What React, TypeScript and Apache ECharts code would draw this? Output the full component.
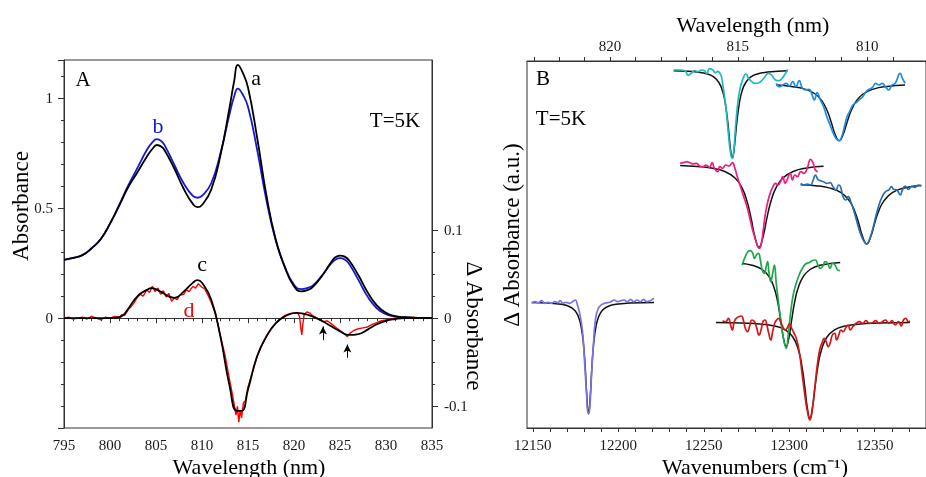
import React, { useEffect, useRef } from "react";
import * as echarts from "echarts";

const FONT = "Liberation Serif";

// ---------- Panel A (absorbance, wavelength nm) ----------
const curveB: [number, number][] = [
  [795, 0.265], [796, 0.274], [797, 0.287], [798, 0.318], [799, 0.36], [800, 0.43], [801, 0.515],
  [802, 0.605], [803, 0.685], [804, 0.765], [804.6, 0.8], [805.1, 0.815], [805.6, 0.805], [806, 0.782],
  [807, 0.697], [808, 0.614], [809, 0.556], [809.5, 0.548], [810, 0.556], [811, 0.614], [812, 0.75],
  [813, 0.93], [813.5, 1.01], [813.9, 1.045], [814.4, 1.02], [815, 0.962], [816, 0.765], [817, 0.538],
  [818, 0.356], [819, 0.235], [820, 0.152], [820.8, 0.132], [821.5, 0.138], [822, 0.147], [823, 0.192],
  [824, 0.247], [824.5, 0.266], [825, 0.273], [825.5, 0.267], [826, 0.247], [827, 0.174], [828, 0.098],
  [829, 0.045], [830, 0.018], [831, 0.007], [832, 0.003], [833.5, 0.001], [835, 0]
];
const curveA: [number, number][] = [
  [795, 0.265], [796, 0.274], [797, 0.287], [798, 0.318], [799, 0.36], [800, 0.43], [801, 0.512],
  [802, 0.598], [803, 0.665], [804, 0.735], [804.6, 0.77], [805.1, 0.788], [805.6, 0.78], [806, 0.76],
  [807, 0.68], [808, 0.59], [809, 0.52], [809.5, 0.505], [810, 0.515], [811, 0.585], [812, 0.74],
  [813, 0.96], [813.5, 1.08], [813.9, 1.153], [814.4, 1.12], [815, 1.05], [816, 0.82], [817, 0.56],
  [818, 0.36], [819, 0.232], [820, 0.145], [820.8, 0.122], [821.5, 0.128], [822, 0.14], [823, 0.19],
  [824, 0.252], [824.5, 0.277], [825, 0.285], [825.5, 0.28], [826, 0.262], [827, 0.195], [828, 0.118],
  [829, 0.058], [830, 0.024], [831, 0.009], [832, 0.004], [833.5, 0.001], [835, 0]
];
const curveC: [number, number][] = [
  [795, 0], [797, 0], [799, 0], [800, 0], [801, 0.001], [801.5, 0.004], [802, 0.011], [803, 0.025],
  [804, 0.032], [804.5, 0.034], [805.5, 0.03], [806.5, 0.024], [807, 0.023], [808, 0.03], [809, 0.04],
  [809.5, 0.043], [810, 0.04], [811, 0.021], [812, -0.021], [813, -0.077], [813.8, -0.105],
  [814.3, -0.105], [815, -0.081], [816, -0.043], [817, -0.021], [818, -0.006], [819, 0.002],
  [820.3, 0.006], [821, 0.005], [822, 0.002], [823, -0.003], [824, -0.009], [825, -0.015],
  [826, -0.019], [827, -0.018], [828, -0.013], [829, -0.007], [830, -0.003], [831, -0.001], [832, 0], [835, 0]
];
const curveD: [number, number][] = [
  [795, 0], [795.5, 0.001], [796, -0.001], [796.5, 0], [797, 0.001], [797.5, -0.001], [798, 0.002],
  [798.5, 0], [799, -0.002], [799.5, 0.001], [800, 0], [800.5, 0.002], [801, 0.001], [801.3, 0.004],
  [801.6, 0.003], [802, 0.01], [802.3, 0.013], [802.6, 0.017], [803, 0.024], [803.3, 0.027],
  [803.6, 0.025], [804, 0.032], [804.3, 0.029], [804.6, 0.036], [804.9, 0.03], [805.2, 0.034],
  [805.5, 0.027], [805.8, 0.031], [806.1, 0.024], [806.4, 0.028], [806.7, 0.019], [807, 0.023],
  [807.3, 0.021], [807.6, 0.026], [808, 0.027], [808.3, 0.032], [808.6, 0.03], [809, 0.036],
  [809.3, 0.034], [809.6, 0.039], [810, 0.035], [810.3, 0.033], [810.6, 0.027], [811, 0.018],
  [811.5, 0.004], [812, -0.02], [812.5, -0.042], [813, -0.07], [813.3, -0.086], [813.5, -0.098],
  [813.7, -0.11], [813.85, -0.1], [814, -0.118], [814.15, -0.104], [814.3, -0.113], [814.5, -0.096],
  [814.7, -0.094], [815, -0.078], [815.5, -0.061], [816, -0.043], [816.5, -0.031], [817, -0.02],
  [817.5, -0.012], [818, -0.006], [818.5, -0.001], [819, 0.003], [819.5, 0.005], [820, 0.006],
  [820.4, 0.006], [820.6, 0.002], [820.75, -0.012], [820.85, -0.019], [820.95, -0.008], [821.1, 0.004],
  [821.4, 0.007], [821.7, 0.006], [822, 0.003], [822.5, 0], [823, -0.003], [823.3, -0.004],
  [823.6, -0.003], [824, -0.006], [824.5, -0.01], [825, -0.014], [825.5, -0.018], [825.8, -0.021],
  [826.1, -0.017], [826.5, -0.014], [827, -0.012], [827.5, -0.011], [828, -0.01], [828.5, -0.007],
  [829, -0.005], [829.5, -0.003], [830, -0.002], [830.5, -0.001], [831, 0], [832, 0], [833, 0.001],
  [834, 0], [835, 0]
];
const arrowX = [823.15, 825.8];
const arrowTail = [-0.025, -0.045];
const arrowHead = [-0.0095, -0.03];

// ---------- Panel B (wavenumbers cm-1, offset traces, a.u.) ----------
const cyanData: [number, number][] = [
  [12232.4, 358], [12236.2, 358], [12239.0, 357.3], [12240.9, 352.7], [12242.9, 355.3], [12244.8, 357.3],
  [12246.7, 356.3], [12248.6, 358], [12250.5, 357.3], [12251.8, 354], [12253.3, 359.3], [12255.3, 358],
  [12256.8, 355.3], [12258.1, 356.7], [12260.0, 353], [12261.0, 344.7], [12262.9, 321.3], [12264.4, 294.7],
  [12265.7, 274.7], [12266.7, 269.7], [12267.6, 278], [12268.6, 301.3], [12270.1, 328], [12271.5, 341.3],
  [12273.4, 351.3], [12274.7, 354], [12276.2, 349.7], [12278.1, 346.3], [12280.0, 344.7], [12282.3, 345.3],
  [12284.2, 348], [12286.1, 352], [12287.7, 354.7], [12289.6, 353], [12291.5, 348.7], [12293.4, 347.3],
  [12295.3, 348.7], [12297.2, 353], [12299.1, 358.7]
];
const cyanFit: [number, number][] = [
  [12232.4, 357.2], [12240, 356.8], [12246, 355.9], [12252, 354.0], [12256, 350.8], [12259, 345.0],
  [12261, 336.9], [12262.5, 325.6], [12264, 306.6], [12265, 289.4], [12266, 274], [12266.7, 270],
  [12267.4, 274], [12268.4, 289.4], [12269.4, 306.6], [12270.9, 325.6], [12272.4, 336.9], [12274.4, 345.0],
  [12277.4, 350.8], [12281.4, 354.0], [12287.4, 355.9], [12293.4, 356.8], [12299.1, 357.3]
];
const blueData: [number, number][] = [
  [12292.4, 344.7], [12294.3, 341.3], [12296.2, 343], [12298.2, 344.7], [12300.1, 342], [12302.0, 346.3],
  [12303.9, 341.3], [12305.8, 347.3], [12307.7, 339.7], [12309.6, 338], [12311.5, 338.7], [12313.4, 333],
  [12314.7, 328], [12316.3, 335.3], [12318.2, 328], [12320.1, 321.3], [12322.0, 311.3], [12323.9, 303],
  [12325.8, 294.7], [12327.7, 288.7], [12329.2, 287.3], [12330.8, 292], [12332.5, 303], [12333.8, 311.3],
  [12335.3, 316.3], [12337.2, 323], [12339.2, 325.3], [12341.1, 328.7], [12343.0, 331.3], [12344.9, 336.3],
  [12346.8, 338.7], [12348.7, 340.7], [12350.6, 344.7], [12352.5, 343], [12354.4, 344.7], [12356.3, 341.3],
  [12358.2, 338], [12360.1, 343], [12362.0, 344.7], [12364.9, 354.7], [12366.2, 349.7], [12367.8, 344.7]
];
const blueFit: [number, number][] = [
  [12292.4, 342.9], [12301.2, 341.6], [12309.2, 338.9], [12315.2, 334.0], [12319.2, 326.9], [12322.2, 317.2],
  [12324.7, 305.1], [12326.7, 294.3], [12329.2, 287.3], [12331.7, 294.3], [12333.7, 305.1], [12336.2, 317.2],
  [12339.2, 326.9], [12343.2, 334.0], [12349.2, 338.9], [12357.2, 341.6], [12367.7, 343.0]
];
const pinkData: [number, number][] = [
  [12236.2, 264.7], [12238.1, 265.3], [12240.0, 266.3], [12241.9, 265.3], [12243.8, 264], [12245.7, 264.7],
  [12247.6, 262], [12249.5, 261.3], [12251.4, 263], [12253.3, 260.7], [12254.9, 265.3], [12256.2, 259.7],
  [12258.1, 256.3], [12259.4, 261.3], [12261.0, 259.7], [12262.9, 263], [12264.8, 262], [12266.7, 265.3],
  [12268.2, 259.7], [12269.6, 251.3], [12271.5, 241.3], [12273.4, 231.3], [12275.3, 221.3], [12277.2, 208],
  [12279.1, 194.7], [12281.0, 184.7], [12282.3, 179.7], [12283.5, 183], [12284.8, 198], [12286.1, 214.7],
  [12287.7, 228], [12289.2, 236.3], [12290.5, 241.3], [12291.9, 244.7], [12293.4, 243], [12294.9, 246.3],
  [12296.2, 251.3], [12297.6, 244.7], [12299.1, 249.7], [12300.6, 254.7], [12301.9, 248], [12303.3, 253],
  [12304.8, 251.3], [12306.7, 256.3], [12308.6, 254.7], [12310.5, 259.7], [12312.5, 268.7], [12314.0, 264.7],
  [12315.3, 258], [12316.7, 256.3]
];
const pinkFit: [number, number][] = [
  [12236.2, 262.5], [12246.3, 261.5], [12254.3, 260], [12262.3, 256.5], [12268.3, 250], [12272.3, 240.3],
  [12275.3, 226.7], [12277.8, 208.8], [12279.8, 192], [12282.3, 180.7], [12284.8, 192], [12286.8, 208.8],
  [12289.3, 226.7], [12292.3, 240.3], [12296.3, 250], [12302.3, 256.5], [12310.3, 260], [12320.1, 261.7]
];
const steelData: [number, number][] = [
  [12306.7, 244.7], [12308.6, 243], [12310.5, 244], [12312.5, 243], [12314.0, 248], [12315.3, 253],
  [12316.7, 248.7], [12318.2, 247.3], [12320.1, 246.3], [12322.0, 244.7], [12323.9, 245.3], [12325.8, 240.7],
  [12327.3, 238], [12328.9, 243], [12330.0, 241.3], [12331.5, 231.3], [12333.1, 228], [12334.4, 231.3],
  [12336.3, 224.7], [12338.2, 214.7], [12340.1, 203], [12342.0, 193], [12343.9, 186.3], [12345.3, 184],
  [12346.8, 188], [12348.7, 198], [12350.6, 211.3], [12352.5, 223], [12354.4, 231.3], [12356.3, 236.3],
  [12358.2, 238], [12359.8, 241.3], [12361.1, 238.7], [12363.0, 238], [12364.9, 233], [12366.2, 238],
  [12367.8, 242], [12369.7, 238.7], [12371.6, 241.3], [12373.5, 240.7], [12375.4, 243], [12377.3, 242]
];
const steelFit: [number, number][] = [
  [12306.7, 243.3], [12315.3, 242.3], [12323.3, 240.1], [12330.3, 235.4], [12335.3, 226.9], [12338.3, 216.8],
  [12340.8, 203.8], [12342.8, 191.9], [12345.3, 184], [12347.8, 191.9], [12349.8, 203.8], [12352.3, 216.8],
  [12355.3, 226.9], [12360.3, 235.4], [12367.3, 240.1], [12377.3, 242.6]
];
const greenData: [number, number][] = [
  [12272.4, 163], [12274.3, 171.3], [12275.8, 176.3], [12277.2, 177.3], [12278.5, 175.3], [12279.7, 169.7],
  [12280.8, 173], [12282.0, 174.7], [12283.1, 168], [12284.2, 158], [12285.4, 154.7], [12286.5, 161.3],
  [12287.3, 166.3], [12288.2, 154.7], [12289.2, 146.3], [12290.3, 154.7], [12291.3, 163], [12292.4, 144.7],
  [12293.8, 124.7], [12295.3, 104.7], [12296.8, 88], [12298.2, 79.7], [12299.5, 94.7], [12301.0, 118],
  [12302.5, 134.7], [12304.1, 144.7], [12305.8, 153], [12307.7, 159.7], [12309.6, 164], [12311.5, 165.3],
  [12313.4, 167.3], [12315.3, 168], [12316.8, 163], [12318.2, 159.7], [12319.7, 162], [12321.0, 166.3],
  [12322.4, 164.7], [12323.9, 159.7], [12325.4, 164.7], [12326.8, 163], [12328.3, 158], [12329.6, 157.3]
];
const greenFit: [number, number][] = [
  [12272.4, 164.6], [12278.2, 162.8], [12284.2, 158.5], [12288.2, 151.4], [12291.2, 140], [12293.2, 126.3],
  [12295.2, 105.6], [12296.7, 89.2], [12298.2, 81.5], [12299.7, 89.2], [12301.2, 105.6], [12303.2, 126.3],
  [12305.2, 140], [12308.2, 151.4], [12312.2, 158.5], [12318.2, 162.8], [12329.8, 165.6]
];
const redData: [number, number][] = [
  [12261.0, 107.3], [12262.9, 106.3], [12264.4, 109.7], [12265.7, 103], [12266.7, 98], [12267.8, 106.3],
  [12269.0, 109.7], [12270.5, 111.3], [12272.0, 112], [12273.4, 106.3], [12274.3, 99.7], [12275.6, 96.3],
  [12277.0, 103], [12278.1, 108], [12279.7, 106.3], [12281.0, 99.7], [12282.3, 93], [12283.5, 98],
  [12284.6, 106.3], [12285.8, 108], [12286.9, 103], [12288.0, 94.7], [12289.2, 88], [12290.3, 96.3],
  [12291.5, 104.7], [12292.6, 108], [12293.8, 109.7], [12294.9, 106.3], [12296.2, 101.3], [12297.6, 98],
  [12298.7, 99.7], [12300.1, 104], [12301.4, 99.7], [12302.9, 94.7], [12304.4, 88], [12306.0, 74.7],
  [12307.5, 54.7], [12309.0, 34.7], [12310.5, 18], [12312.1, 8], [12313.4, 18], [12314.8, 38],
  [12316.3, 61.3], [12317.8, 78], [12319.1, 84.7], [12320.5, 89.7], [12321.6, 86.3], [12322.8, 81.3],
  [12323.9, 84.7], [12325.2, 93], [12326.6, 94.7], [12327.7, 88], [12329.0, 93], [12330.2, 98],
  [12331.5, 96.3], [12332.9, 99.7], [12334.4, 103], [12335.7, 98], [12337.2, 101.3], [12339.2, 104.7],
  [12341.1, 106.3], [12343.0, 104.7], [12344.9, 107.3], [12346.8, 104.7], [12348.7, 105.3], [12350.6, 107.3],
  [12352.5, 104.7], [12354.4, 106.3], [12356.3, 108], [12358.2, 104.7], [12360.1, 107.3], [12362.0, 103],
  [12363.9, 106.3], [12365.5, 102], [12366.8, 108], [12368.1, 109.7], [12369.7, 106.3], [12370.6, 107.3]
];
const redFit: [number, number][] = [
  [12257.1, 105.4], [12272.1, 104.9], [12284.1, 103.8], [12292.1, 101.7], [12298.1, 97.7], [12302.1, 91],
  [12305.1, 79.6], [12307.1, 65.1], [12309.1, 41.2], [12310.6, 20.2], [12312.1, 9.7], [12313.6, 20.2],
  [12315.1, 41.2], [12317.1, 65.1], [12319.1, 79.6], [12322.1, 91], [12326.1, 97.7], [12332.1, 101.7],
  [12340.1, 103.8], [12352.1, 104.9], [12370.6, 105.5]
];
const lavData: [number, number][] = [
  [12149.4, 124.7], [12151.3, 126.3], [12153.2, 125.3], [12155.1, 127.3], [12157.0, 124.7], [12158.9, 125.7],
  [12160.8, 124.7], [12162.8, 126.3], [12164.7, 125.3], [12166.0, 127.3], [12167.5, 124.7], [12169.4, 125.7],
  [12171.3, 124.7], [12173.2, 126.3], [12174.8, 128], [12176.1, 123], [12177.4, 114.7], [12179.0, 98],
  [12180.1, 71.3], [12181.3, 38], [12182.4, 14.7], [12183.2, 18], [12184.3, 51.3], [12185.5, 84.7],
  [12186.6, 108], [12188.1, 118.7], [12190.0, 123], [12191.9, 124.7], [12193.8, 125.3], [12195.7, 126.3],
  [12197.6, 128], [12199.6, 126.3], [12201.5, 127.3], [12203.4, 128], [12205.3, 126.3], [12207.2, 128.7],
  [12209.1, 126.3], [12211.0, 128], [12212.9, 126.3], [12214.8, 128.7], [12216.7, 126.3], [12218.6, 127.3],
  [12220.0, 128.7], [12220.9, 129.7]
];
const lavFit: [number, number][] = [
  [12149.4, 125.5], [12158.6, 125], [12166.6, 123.7], [12171.6, 121.3], [12174.6, 117.5], [12176.6, 111.6],
  [12178.1, 102.8], [12179.6, 84.5], [12180.6, 62.2], [12181.6, 31.8], [12182.6, 14], [12183.6, 31.8],
  [12184.6, 62.2], [12185.6, 84.5], [12187.1, 102.8], [12188.6, 111.6], [12190.6, 117.5], [12193.6, 121.3],
  [12198.6, 123.7], [12206.6, 125], [12220.9, 125.6]
];

// axis ticks / labels
const leftLabels = [0, 0.5, 1];
const bottomBLabels = [12150, 12200, 12250, 12300, 12350];
const bottomBTicks = [12150, 12160, 12170, 12180, 12190, 12200, 12210, 12220, 12230, 12240, 12250, 12260,
  12270, 12280, 12290, 12300, 12310, 12320, 12330, 12340, 12350, 12360, 12370];
const topWavelengthLabels = [820, 815, 810];
const topWavelengthTicks = [823, 822, 821, 820, 819, 818, 817, 816, 815, 814, 813, 812, 811, 810, 809];
const rightMajor = [-0.1, 0, 0.1];
const rightMinor = [-0.075, -0.05, -0.025, 0.025, 0.05, 0.075];

function txt(text: string, x: number, y: number, size: number, color = "#000", rotation = 0) {
  return {
    type: "text",
    x,
    y,
    rotation,
    style: {
      text,
      fill: color,
      font: `${size}px ${FONT}`,
      align: "center",
      verticalAlign: "middle",
    },
  };
}

function line(data: [number, number][], color: string, xi: number, yi: number, width: number, smooth: boolean | number, z = 2) {
  return {
    type: "line",
    xAxisIndex: xi,
    yAxisIndex: yi,
    data,
    showSymbol: false,
    symbol: "none",
    smooth,
    z,
    lineStyle: { color, width },
    itemStyle: { color },
  };
}

export default function App() {
  const ref = useRef<HTMLDivElement>(null);
  useEffect(() => {
    if (!ref.current) return;
    const chart = echarts.init(ref.current, null, { renderer: "svg" });
    const axLine = { show: true, lineStyle: { color: "#333", width: 1 } };
    const option: any = {
      animation: false,
      grid: [
        { left: 64, top: 60, width: 368, height: 368, show: true, borderColor: "#333", borderWidth: 1 },
        { left: 527, top: 61, width: 408, height: 367, show: true, borderColor: "#333", borderWidth: 1 },
      ],
      xAxis: [
        {
          gridIndex: 0, type: "value", min: 795, max: 835, interval: 5,
          axisLine: axLine,
          axisTick: { show: true, length: 5, lineStyle: { color: "#333" } },
          minorTick: { show: true, splitNumber: 5, length: 3, lineStyle: { color: "#333" } },
          axisLabel: { fontFamily: FONT, fontSize: 15, color: "#1a1a1a", margin: 9 },
          splitLine: { show: false },
        },
        {
          gridIndex: 1, type: "value", min: 12146.6, max: 12380,
          axisLine: axLine,
          axisTick: { show: true, length: 4, customValues: bottomBTicks, lineStyle: { color: "#333" } },
          axisLabel: { fontFamily: FONT, fontSize: 15, color: "#1a1a1a", margin: 9, customValues: bottomBLabels, formatter: (v: number) => String(v) },
          splitLine: { show: false },
        },
        {
          gridIndex: 1, type: "value", position: "top", min: 12146.6, max: 12380,
          axisLine: axLine,
          axisTick: { show: true, length: 4, customValues: topWavelengthTicks.map((l) => 1e7 / l), lineStyle: { color: "#333" } },
          axisLabel: {
            fontFamily: FONT, fontSize: 15, color: "#1a1a1a", margin: 8,
            customValues: topWavelengthLabels.map((l) => 1e7 / l),
            formatter: (v: number) => String(Math.round(1e7 / v)),
          },
          splitLine: { show: false },
        },
      ],
      yAxis: [
        {
          gridIndex: 0, type: "value", min: -0.5, max: 1.175, interval: 0.5,
          axisLine: axLine,
          axisTick: { show: true, length: 6, lineStyle: { color: "#333" } },
          minorTick: { show: true, splitNumber: 5, length: 3, lineStyle: { color: "#333" } },
          axisLabel: { fontFamily: FONT, fontSize: 15, color: "#1a1a1a", margin: 11, customValues: leftLabels },
          splitLine: { show: false },
        },
        {
          gridIndex: 0, type: "value", position: "right", min: -0.1245, max: 0.2925,
          axisLine: axLine,
          axisTick: { show: true, length: 6, customValues: rightMajor, lineStyle: { color: "#333" } },
          axisLabel: { fontFamily: FONT, fontSize: 15, color: "#1a1a1a", margin: 12, customValues: rightMajor },
          splitLine: { show: false },
        },
        {
          gridIndex: 0, type: "value", position: "right", min: -0.1245, max: 0.2925,
          axisLine: { show: false },
          axisTick: { show: true, length: 3, customValues: rightMinor, lineStyle: { color: "#333" } },
          axisLabel: { show: false },
          splitLine: { show: false },
        },
        { gridIndex: 1, type: "value", min: 0, max: 367, show: false, splitLine: { show: false } },
      ],
      series: [
        line(curveB, "#1818d0", 0, 0, 1.8, true, 2),
        line(curveA, "#000", 0, 0, 1.8, true, 3),
        {
          ...line(curveD, "#ff0000", 0, 1, 1.4, false, 2),
          markLine: {
            silent: true,
            symbol: ["none", "arrow"],
            symbolSize: [6, 8],
            label: { show: false },
            lineStyle: { color: "#000", width: 1, type: "solid" },
            data: arrowX.map((x, i) => [
              { coord: [x, arrowTail[i]] },
              { coord: [x, arrowHead[i]] },
            ]),
          },
        },
        line(curveC, "#000", 0, 1, 1.8, true, 3),
        line(cyanFit, "#111", 1, 3, 1.5, true, 2),
        line(cyanData, "#1fb9bd", 1, 3, 1.7, true, 3),
        line(blueFit, "#111", 1, 3, 1.5, true, 2),
        line(blueData, "#1b8ee8", 1, 3, 1.7, true, 3),
        line(pinkFit, "#111", 1, 3, 1.5, true, 2),
        line(pinkData, "#f01c80", 1, 3, 1.7, true, 3),
        line(steelFit, "#111", 1, 3, 1.5, true, 2),
        line(steelData, "#2a6fb0", 1, 3, 1.7, true, 3),
        line(greenFit, "#111", 1, 3, 1.5, true, 2),
        line(greenData, "#1ea84a", 1, 3, 1.7, true, 3),
        line(redFit, "#111", 1, 3, 1.5, true, 2),
        line(redData, "#d41818", 1, 3, 1.7, true, 3),
        line(lavFit, "#111", 1, 3, 1.5, true, 2),
        line(lavData, "#7a74e4", 1, 3, 1.7, true, 3),
      ],
      graphic: [
        txt("A", 83, 79, 21),
        txt("a", 256, 77, 22),
        txt("b", 158, 125, 22, "#1818d0"),
        txt("c", 202, 263, 22),
        txt("d", 189, 309, 22, "#ff0000"),
        txt("T=5K", 395, 120, 21),
        txt("Absorbance", 20, 206, 23, "#000", Math.PI / 2),
        txt("Δ Absorbance", 474, 326, 23, "#000", -Math.PI / 2),
        txt("Wavelength (nm)", 249, 466, 22),
        txt("B", 543, 78, 21),
        txt("T=5K", 561, 118, 21),
        txt("Δ Absorbance (a.u.)", 511, 235, 23, "#000", Math.PI / 2),
        txt("Wavelength (nm)", 753, 24, 22),
        txt("Wavenumbers (cm⁻¹)", 755, 466, 22),
      ],
    };
    chart.setOption(option);
    return () => chart.dispose();
  }, []);
  return (
    <div
      ref={ref}
      style={{ position: "fixed", left: 0, top: 0, width: 926, height: 477 }}
    />
  );
}
